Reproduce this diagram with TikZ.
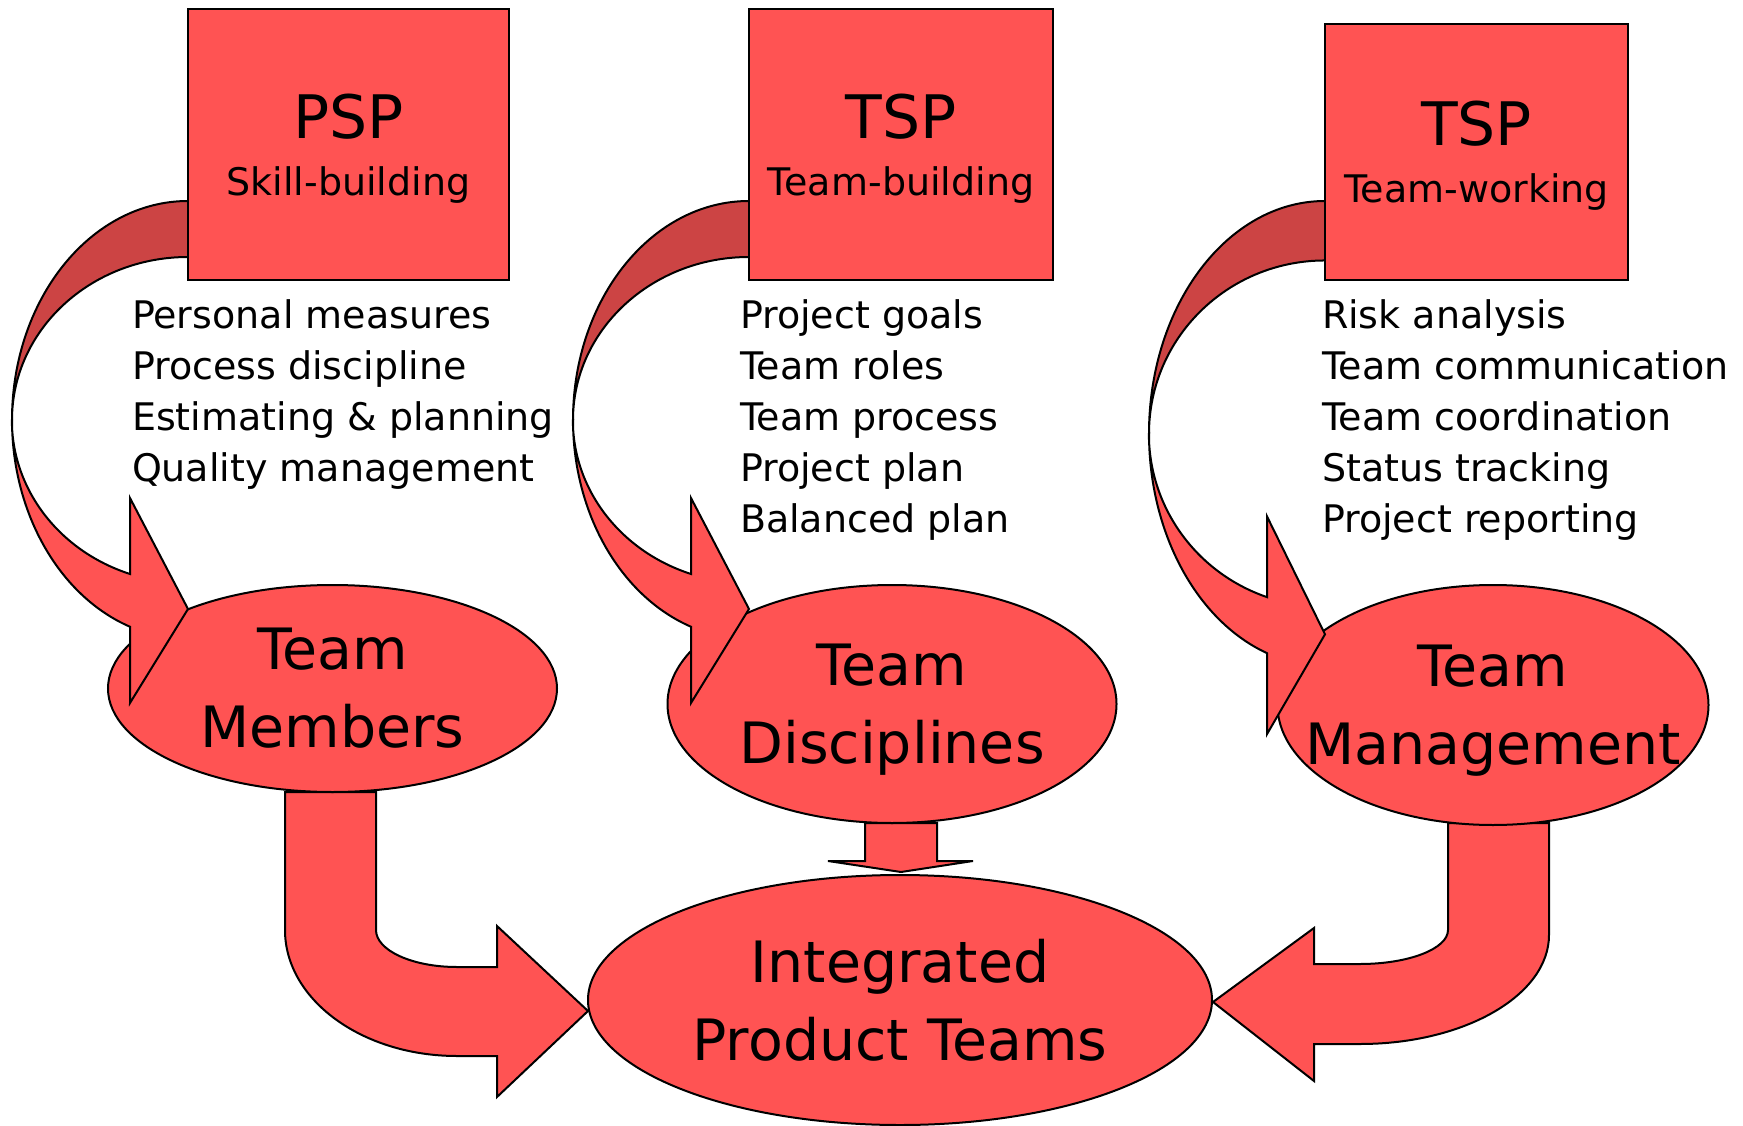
\documentclass[tikz,border=0pt]{standalone}
\usepackage{fontspec}
\setmainfont{DejaVu Sans}
\usetikzlibrary{shapes.geometric}
\definecolor{frontred}{RGB}{255,83,83}
\definecolor{backred}{RGB}{204,68,68}
\tikzset{stage/.style={draw,fill=frontred,rectangle,inner sep=0pt,align=center,
		font=\fontsize{38}{57}\selectfont},
	bubble/.style={draw,fill=frontred,ellipse,inner sep=0pt},
	bubtext/.style={align=center,inner sep=0pt,font=\fontsize{57}{78}\selectfont},
	items/.style={anchor=north west,align=left,inner sep=0pt,
		font=\fontsize{38}{51}\selectfont},
	blockarrow/.style={draw,fill=frontred,line join=miter},
	curl/.pic={
		\filldraw[fill=backred] (0,0)
			arc[start angle=90,end angle=180,x radius=176pt,y radius=219pt]
			arc[start angle=180,end angle=90,x radius=176pt,y radius=163pt] -- cycle;
		\filldraw[fill=frontred,line join=miter] (-176,219)
			arc[start angle=180,end angle=250.8,x radius=176pt,y radius=219pt]
			-- (-58,502) -- (0,408) -- (-58,297) -- (-58,373)
			arc[start angle=250.8,end angle=180,x radius=176pt,y radius=163pt] -- cycle;
	}}
\begin{document}
\begin{tikzpicture}
	[x=1pt,y=-1pt,line width=2pt]
	\useasboundingbox (0,0) rectangle (1743,1126);

	\filldraw[blockarrow] (285,792) -- (285,930)
		arc[start angle=180,end angle=270,x radius=172pt,y radius=126pt]
		-- (497,1056) -- (497,1097) -- (588,1011) -- (497,926) -- (497,967) -- (457,967)
		arc[start angle=270,end angle=180,x radius=81pt,y radius=37pt] -- (376,792) -- cycle;
	\filldraw[blockarrow] (1448,823) -- (1448,930)
		arc[start angle=0,end angle=-90,x radius=88pt,y radius=34pt]
		-- (1314,964) -- (1314,928) -- (1213,1002) -- (1314,1081) -- (1314,1044) -- (1360,1044)
		arc[start angle=-90,end angle=0,x radius=189pt,y radius=109pt] -- (1549,823) -- cycle;
	\filldraw[blockarrow] (865,823) -- (865,861) -- (828,861) -- (901,872)
		-- (973,861) -- (937,861) -- (937,823) -- cycle;

	\node [bubble,minimum width=449pt,minimum height=207pt] (members) at (332.5,688.5) {};
	\node [bubble,minimum width=449pt,minimum height=238pt] (disciplines) at (892,704) {};
	\node [bubble,minimum width=431pt,minimum height=240pt] (management) at (1493,705) {};
	\node [bubble,minimum width=624pt,minimum height=250pt] (ipt) at (900,1000) {};

	\pic at (188,201) {curl};
	\pic at (749,201) {curl};
	\pic [yscale=1.062] at (1325,201) {curl};

	\node [stage,minimum width=321pt,minimum height=271pt] (psp) at (348.5,144.5)
		{{\fontsize{60}{57}\selectfont PSP}\\\smash{Skill-building}};
	\node [stage,minimum width=304pt,minimum height=271pt] (tspbuild) at (901,144.5)
		{{\fontsize{60}{57}\selectfont TSP}\\\smash{Team-building}};
	\node [stage,minimum width=303pt,minimum height=256pt] (tspwork) at (1476.5,152)
		{{\fontsize{60}{57}\selectfont TSP}\\\smash{Team-working}};

	\node [items] (pspitems) at (131,299)
		{Personal measures\\Process discipline\\Estimating \& planning\\Quality management};
	\node [items] (builditems) at (739,299)
		{Project goals\\Team roles\\Team process\\Project plan\\Balanced plan};
	\node [items] (workitems) at (1321,299)
		{Risk analysis\\Team communication\\Team coordination\\Status tracking\\Project reporting};

	\node [bubtext] at (members) {Team\\Members};
	\node [bubtext] at (disciplines) {Team\\\smash{Disciplines}};
	\node [bubtext] at (management) {Team\\\smash{Management}};
	\node [bubtext] at (ipt) {Integrated\\Product Teams};
\end{tikzpicture}
\end{document}
